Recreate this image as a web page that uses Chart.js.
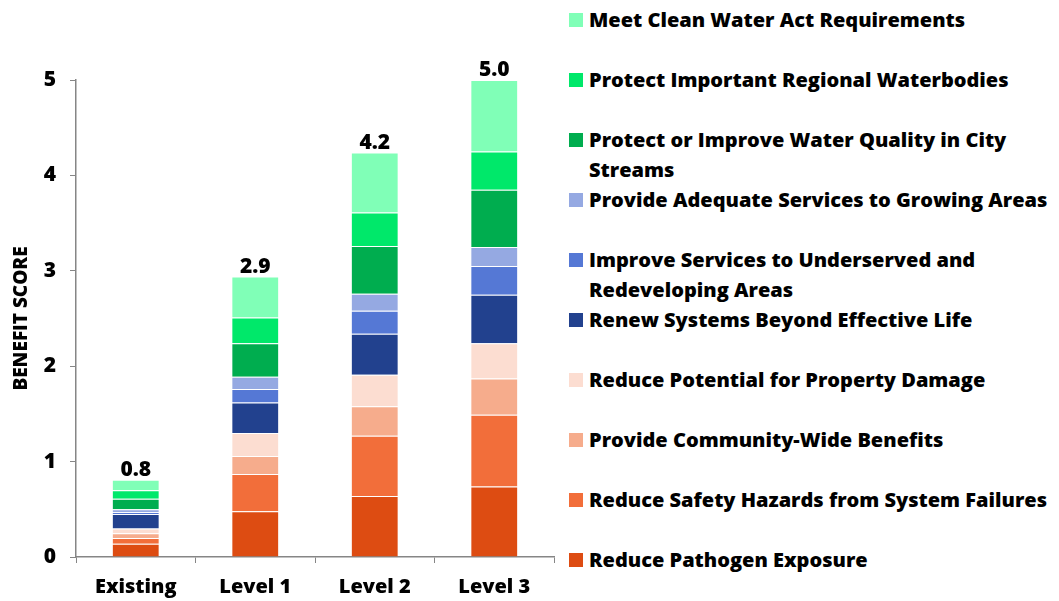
<!DOCTYPE html>
<html>
<head>
<meta charset="utf-8">
<script src="https://cdn.jsdelivr.net/npm/chart.js@4"></script>
<style>
  html, body { margin: 0; padding: 0; background: #fff; }
  #wrap { position: relative; width: 1059px; height: 601px; overflow: hidden; }
  #plot { position: absolute; left: 0; top: 0; width: 560px; height: 601px; }
  #legend { position: absolute; left: 569px; top: 5px; width: 490px; margin: 0; padding: 0; list-style: none;
    font: 800 20px "Open Sans", sans-serif; color: #000; }
  #legend li { position: relative; height: 60px; line-height: 30px; padding-left: 20px; }
  #legend span { position: absolute; left: 0; top: 8px; width: 14px; height: 14px; }
</style>
</head>
<body>
<div id="wrap">
  <div id="plot"><canvas id="c"></canvas></div>
  <ul id="legend"></ul>
</div>
<script>
'use strict';

const FONT = '"Open Sans", sans-serif';

const categories = ['Existing', 'Level 1', 'Level 2', 'Level 3'];
const yTicks = [0, 1, 2, 3, 4, 5];

// series, bottom of the stack first
const seriesNames = [
  'Reduce Pathogen Exposure',
  'Reduce Safety Hazards from System Failures',
  'Provide Community-Wide Benefits',
  'Reduce Potential for Property Damage',
  'Renew Systems Beyond Effective Life',
  'Improve Services to Underserved and Redeveloping Areas',
  'Provide Adequate Services to Growing Areas',
  'Protect or Improve Water Quality in City Streams',
  'Protect Important Regional Waterbodies',
  'Meet Clean Water Act Requirements'
];
const seriesColors = [
  '#DD4C12', '#F26E3A', '#F6AC8C', '#FCDDD1', '#22418E',
  '#5578D5', '#95A9E2', '#00AD4F', '#00E86A', '#80FFB7'
];

const pathogen    = [0.14, 0.48, 0.64, 0.74];
const safety      = [0.06, 0.39, 0.63, 0.75];
const community   = [0.05, 0.19, 0.31, 0.38];
const property    = [0.05, 0.24, 0.33, 0.37];
const renew       = [0.15, 0.32, 0.43, 0.51];
const underserved = [0.02, 0.14, 0.24, 0.30];
const growing     = [0.03, 0.13, 0.18, 0.20];
const streams     = [0.11, 0.35, 0.50, 0.60];
const waterbodies = [0.09, 0.27, 0.35, 0.40];
const cleanWater  = [0.11, 0.43, 0.63, 0.75];

const seriesValues = [pathogen, safety, community, property, renew,
  underserved, growing, streams, waterbodies, cleanWater];

const totals = categories.map((_, i) => seriesValues.reduce((s, v) => s + v[i], 0));

const datasets = seriesNames.map((name, k) => ({
  label: name,
  data: seriesValues[k],
  backgroundColor: seriesColors[k],
  borderColor: 'rgba(255,255,255,0.15)',
  borderWidth: 1,
  barPercentage: 0.8,
  categoryPercentage: 0.5
}));

// total above each bar
const totalLabels = {
  id: 'totalLabels',
  afterDatasetsDraw(chart) {
    const { ctx } = chart;
    const top = chart.getDatasetMeta(datasets.length - 1);
    ctx.save();
    ctx.font = `800 21px ${FONT}`;
    ctx.fillStyle = '#000';
    ctx.textAlign = 'center';
    ctx.textBaseline = 'bottom';
    top.data.forEach((bar, i) => {
      ctx.fillText(totals[i].toFixed(1), bar.x, bar.y + 1);
    });
    ctx.restore();
  }
};

new Chart(document.getElementById('c').getContext('2d'), {
  type: 'bar',
  data: { labels: categories, datasets },
  options: {
    responsive: true,
    maintainAspectRatio: false,
    animation: false,
    layout: { padding: { top: 80, right: 6, left: 0, bottom: 0 } },
    plugins: { legend: { display: false }, tooltip: { enabled: false } },
    scales: {
      x: {
        stacked: true,
        grid: { offset: true, drawOnChartArea: false, color: '#868686', tickLength: 6 },
        border: { color: '#868686', width: 1.5 },
        ticks: { color: '#000', font: { family: FONT, size: 20, weight: 800 }, padding: 12 },
        afterFit(s) { s.height = 44; }
      },
      y: {
        stacked: true,
        min: 0,
        max: 5,
        afterBuildTicks(s) { s.ticks = yTicks.map((v) => ({ value: v })); },
        grid: { drawOnChartArea: false, color: '#868686', tickLength: 6 },
        border: { color: '#868686', width: 1.5 },
        ticks: { color: '#000', font: { family: FONT, size: 21, weight: 800 }, padding: 14 },
        title: { display: true, text: 'BENEFIT SCORE', color: '#000',
          font: { family: FONT, size: 19, weight: 800 }, padding: { top: 10, bottom: 0 } },
        afterFit(s) { s.width = 76; }
      }
    }
  },
  plugins: [totalLabels]
});

// legend, top of the stack first
const legend = document.getElementById('legend');
for (let k = seriesNames.length - 1; k >= 0; k--) {
  const li = document.createElement('li');
  const sw = document.createElement('span');
  sw.style.background = seriesColors[k];
  li.appendChild(sw);
  li.appendChild(document.createTextNode(seriesNames[k]));
  legend.appendChild(li);
}
</script>
</body>
</html>
